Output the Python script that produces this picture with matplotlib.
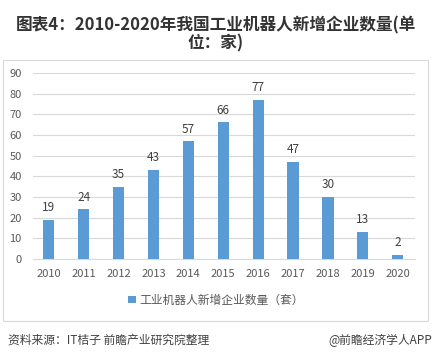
import matplotlib

matplotlib.use("Agg")
import matplotlib.pyplot as plt
from matplotlib.patches import Rectangle

plt.rcParams["font.family"] = ["Noto Sans CJK SC", "DejaVu Sans"]

years = ["2010", "2011", "2012", "2013", "2014", "2015",
         "2016", "2017", "2018", "2019", "2020"]
counts = [19, 24, 35, 43, 57, 66, 77, 47, 30, 13, 2]
y_ticks = [0, 10, 20, 30, 40, 50, 60, 70, 80, 90]

title = "图表4：2010-2020年我国工业机器人新增企业数量(单\n位：家)"
series_name = "工业机器人新增企业数量（套）"
source = "资料来源：IT桔子 前瞻产业研究院整理"
credit = "@前瞻经济学人APP"

BAR = "#5b9bd5"
TXT = "#595959"

fig = plt.figure(figsize=(4.32, 3.61), dpi=100)
ax = fig.add_axes([0.076, 0.283, 0.885, 0.515])

x = list(range(len(years)))
bars = ax.bar(x, counts, width=0.32, color=BAR, label=series_name, zorder=3)
ax.bar_label(bars, padding=4, fontsize=8.5, color="#404040")

ax.set_xlim(-0.46, 10.5)
ax.set_ylim(0, 90)
ax.set_yticks(y_ticks)
ax.set_xticks(x)
ax.set_xticklabels(years)
ax.tick_params(axis="both", length=0, labelsize=8, colors=TXT)
ax.tick_params(axis="x", pad=7)
ax.tick_params(axis="y", pad=8)
ax.grid(axis="y", color="#d9d9d9", linewidth=0.8, zorder=0)
for side in ("top", "right", "left"):
    ax.spines[side].set_visible(False)
ax.spines["bottom"].set_color("#d9d9d9")

# chart frame
fig.patches.append(Rectangle((3 / 432, 40 / 361), 425 / 432, 261 / 361,
                             transform=fig.transFigure, fill=False,
                             edgecolor="#d9d9d9", linewidth=0.8))

fig.text(0.5, 0.905, title, ha="center", va="center", fontsize=12,
         fontweight="bold", color="#333333", linespacing=1.0)

fig.legend(loc="center", bbox_to_anchor=(0.5, 0.168), frameon=False,
           fontsize=8.5, handlelength=0.6, handleheight=0.6,
           handletextpad=0.3, labelcolor=TXT)

fig.text(0.018, 0.058, source, ha="left", va="center", fontsize=8.5,
         color="#404040")
fig.text(1.0, 0.058, credit, ha="right", va="center", fontsize=8.5,
         color="#404040")

fig.savefig("out.png", dpi=100)
